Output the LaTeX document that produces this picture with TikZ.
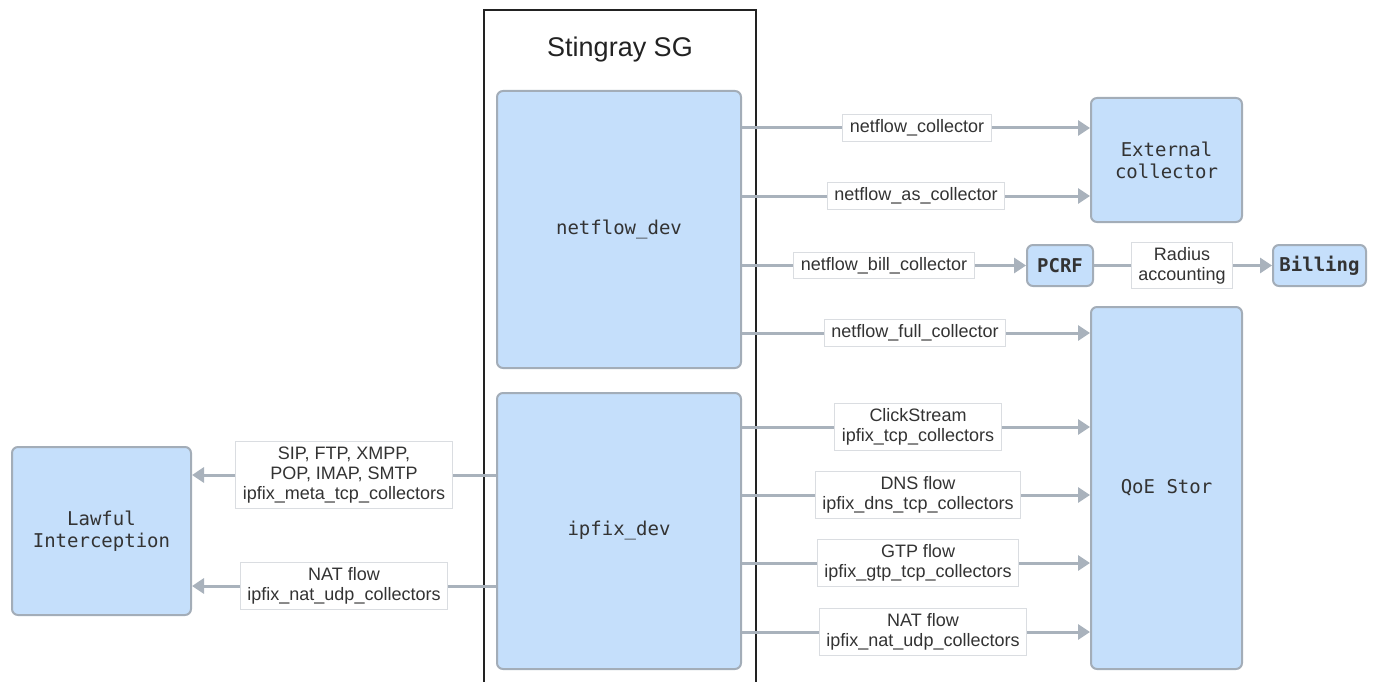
\documentclass[tikz,border=0pt]{standalone}
\usepackage{fontspec}
\setmainfont{Liberation Sans}
\setmonofont{DejaVu Sans Mono}
\usetikzlibrary{arrows.meta}
\definecolor{blueF}{HTML}{C5DFFB}
\definecolor{bordC}{HTML}{A3ADB8}
\definecolor{arrC}{HTML}{A9B2BC}
\definecolor{lblB}{HTML}{DADDE1}
\definecolor{txtC}{HTML}{333333}
\definecolor{outerC}{HTML}{222222}
\begin{document}
\begin{tikzpicture}[x=1pt,y=-1pt,
  blk/.style={draw=bordC, fill=blueF, line width=2pt, rounded corners=6pt, inner sep=0pt,
    font=\ttfamily\fontsize{19}{22}\selectfont, text=txtC, align=center},
  lbl/.style={draw=lblB, fill=white, line width=1pt, inner xsep=7pt, inner ysep=5pt,
    font=\fontsize{18}{20}\selectfont, text=txtC, align=center},
  conn/.style={draw=arrC, line width=3pt},
  arr/.style={conn, -{Triangle[length=12pt,width=15pt]}}]
\useasboundingbox (0,0) rectangle (1384,682);
% outer Stingray box
\draw[outerC, line width=2.5pt] (484,690) -- (484,10) -- (756,10) -- (756,690);
\node[font=\fontsize{27}{30}\selectfont, text=outerC] (title) at (620,50) {Stingray SG};
% blocks
\node[blk, minimum width=244pt, minimum height=277pt] (nd) at (619,229.5) {netflow\_dev};
\node[blk, minimum width=244pt, minimum height=276pt] (id) at (619,531) {ipfix\_dev};
\node[blk, minimum width=151pt, minimum height=124pt] (ext) at (1166.5,160) {External\\collector};
\node[blk, minimum width=66pt, minimum height=41pt, font=\ttfamily\bfseries\fontsize{19}{22}\selectfont] (pcrf) at (1060,265.5) {PCRF};
\node[blk, minimum width=93pt, minimum height=41pt, font=\ttfamily\bfseries\fontsize{19}{22}\selectfont] (bill) at (1319.5,265.5) {Billing};
\node[blk, minimum width=151pt, minimum height=362pt] (qoe) at (1166.5,488) {QoE Stor};
\node[blk, minimum width=179pt, minimum height=168pt] (li) at (101.5,531) {Lawful\\Interception};
% labels
\node[lbl] (l1) at (917,128) {netflow\_collector};
\node[lbl] (l2) at (916,196) {netflow\_as\_collector};
\node[lbl] (l3) at (884,265.5) {netflow\_bill\_collector};
\node[lbl] (rad) at (1182,265.5) {Radius\\accounting};
\node[lbl] (l4) at (915,333) {netflow\_full\_collector};
\node[lbl] (l5) at (918,427) {ClickStream\\ipfix\_tcp\_collectors};
\node[lbl] (l6) at (918,495) {DNS flow\\ipfix\_dns\_tcp\_collectors};
\node[lbl] (l7) at (918,563) {GTP flow\\ipfix\_gtp\_tcp\_collectors};
\node[lbl] (l8) at (923,632) {NAT flow\\ipfix\_nat\_udp\_collectors};
\node[lbl] (s1) at (344,475) {SIP, FTP, XMPP,\\POP, IMAP, SMTP\\ipfix\_meta\_tcp\_collectors};
\node[lbl] (s2) at (344,586) {NAT flow\\ipfix\_nat\_udp\_collectors};
% connectors right
\draw[conn] (nd.east |- l1) -- (l1.west);
\draw[arr] (l1.east) -- (ext.west |- l1);
\draw[conn] (nd.east |- l2) -- (l2.west);
\draw[arr] (l2.east) -- (ext.west |- l2);
\draw[conn] (nd.east |- l3) -- (l3.west);
\draw[arr] (l3.east) -- (pcrf.west);
\draw[conn] (pcrf.east) -- (rad.west);
\draw[arr] (rad.east) -- (bill.west);
\draw[conn] (nd.east |- l4) -- (l4.west);
\draw[arr] (l4.east) -- (qoe.west |- l4);
\draw[conn] (id.east |- l5) -- (l5.west);
\draw[arr] (l5.east) -- (qoe.west |- l5);
\draw[conn] (id.east |- l6) -- (l6.west);
\draw[arr] (l6.east) -- (qoe.west |- l6);
\draw[conn] (id.east |- l7) -- (l7.west);
\draw[arr] (l7.east) -- (qoe.west |- l7);
\draw[conn] (id.east |- l8) -- (l8.west);
\draw[arr] (l8.east) -- (qoe.west |- l8);
% connectors left
\draw[conn] (id.west |- s1) -- (s1.east);
\draw[arr] (s1.west) -- (li.east |- s1);
\draw[conn] (id.west |- s2) -- (s2.east);
\draw[arr] (s2.west) -- (li.east |- s2);
\end{tikzpicture}
\end{document}
